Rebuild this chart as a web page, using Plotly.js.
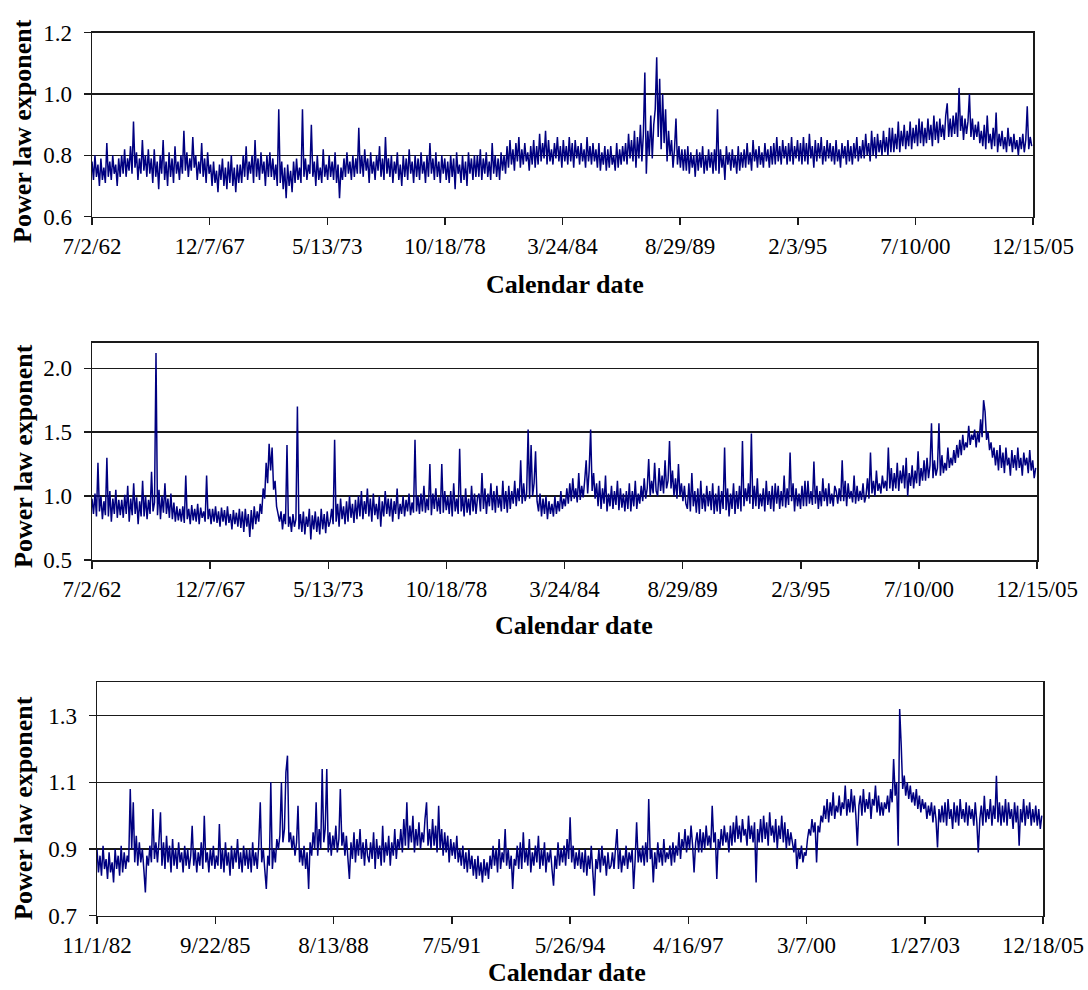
<!DOCTYPE html>
<html>
<head>
<meta charset="utf-8">
<script src="https://cdn.plot.ly/plotly-3.0.1.min.js"></script>
<style>html,body{margin:0;padding:0;background:#fff;}#chart{width:1088px;height:990px;}</style>
</head>
<body>
<div id="chart"></div>
<script>
// ---- Data ----
// Panels 1 and 2: 7/2/62 .. 12/15/05, sampled every 25 days
const start12 = '1962-07-02';
const end12 = '2005-12-15';
const step12 = 25;
// Panel 3: 11/1/82 .. 12/18/05, sampled every 13.5 days
const start3 = '1982-11-01';
const end3 = '2005-12-18';
const step3 = 13.5;

const ticks12 = ['1962-07-02','1967-12-07','1973-05-13','1978-10-18','1984-03-24','1989-08-29','1995-02-03','2000-07-10','2005-12-15'];
const labels12 = ['7/2/62','12/7/67','5/13/73','10/18/78','3/24/84','8/29/89','2/3/95','7/10/00','12/15/05'];
const ticks3 = ['1982-11-01','1985-09-22','1988-08-13','1991-07-05','1994-05-26','1997-04-16','2000-03-07','2003-01-27','2005-12-18'];
const labels3 = ['11/1/82','9/22/85','8/13/88','7/5/91','5/26/94','4/16/97','3/7/00','1/27/03','12/18/05'];

const yTicks1 = [0.6, 0.8, 1.0, 1.2];
const yTicks2 = [0.5, 1.0, 1.5, 2.0];
const yTicks3 = [0.7, 0.9, 1.1, 1.3];

const exp1 = [
0.78,0.72,0.80,0.73,0.77,0.70,0.79,0.72,0.76,0.71,0.84,0.73,0.78,0.72,0.80,0.74,0.77,0.70,0.79,0.73,
0.80,0.74,0.82,0.73,0.79,0.75,0.83,0.74,0.91,0.76,0.81,0.72,0.79,0.74,0.85,0.75,0.80,0.73,0.82,0.74,
0.79,0.71,0.82,0.73,0.78,0.69,0.80,0.74,0.85,0.72,0.78,0.70,0.81,0.73,0.79,0.71,0.83,0.74,0.78,0.72,
0.80,0.74,0.88,0.75,0.81,0.73,0.79,0.75,0.86,0.76,0.80,0.72,0.78,0.74,0.84,0.73,0.79,0.71,0.81,0.74,
0.77,0.70,0.78,0.71,0.75,0.68,0.77,0.72,0.79,0.70,0.76,0.69,0.78,0.71,0.80,0.70,0.76,0.68,0.77,0.71,
0.77,0.71,0.80,0.73,0.83,0.72,0.78,0.74,0.80,0.71,0.85,0.73,0.79,0.72,0.81,0.74,0.78,0.70,0.80,0.73,
0.81,0.73,0.79,0.72,0.77,0.70,0.95,0.71,0.78,0.69,0.76,0.66,0.77,0.70,0.75,0.68,0.78,0.71,0.79,0.72,
0.76,0.71,0.95,0.73,0.79,0.72,0.77,0.74,0.90,0.73,0.78,0.70,0.80,0.72,0.76,0.71,0.82,0.73,0.77,0.72,
0.80,0.73,0.78,0.72,0.81,0.71,0.77,0.66,0.76,0.72,0.79,0.73,0.81,0.74,0.78,0.72,0.80,0.73,0.79,0.74,
0.89,0.74,0.80,0.73,0.82,0.75,0.79,0.71,0.81,0.74,0.78,0.72,0.80,0.75,0.83,0.73,0.79,0.72,0.86,0.74,
0.79,0.73,0.80,0.71,0.78,0.74,0.81,0.72,0.77,0.70,0.80,0.73,0.79,0.72,0.82,0.74,0.78,0.71,0.80,0.73,
0.79,0.72,0.81,0.74,0.78,0.71,0.80,0.73,0.84,0.74,0.79,0.72,0.81,0.73,0.78,0.71,0.80,0.74,0.79,0.72,
0.78,0.71,0.80,0.73,0.79,0.69,0.81,0.74,0.77,0.71,0.80,0.72,0.78,0.70,0.81,0.74,0.79,0.72,0.80,0.73,
0.80,0.73,0.82,0.72,0.79,0.74,0.81,0.73,0.78,0.72,0.84,0.74,0.80,0.73,0.79,0.72,0.81,0.75,0.80,0.74,
0.83,0.76,0.85,0.77,0.82,0.75,0.84,0.78,0.86,0.76,0.82,0.77,0.84,0.78,0.81,0.75,0.83,0.77,0.85,0.76,
0.83,0.77,0.87,0.78,0.84,0.79,0.88,0.77,0.85,0.78,0.82,0.77,0.84,0.79,0.86,0.78,0.83,0.76,0.85,0.78,
0.83,0.77,0.86,0.78,0.84,0.76,0.85,0.79,0.83,0.77,0.84,0.78,0.82,0.76,0.86,0.78,0.83,0.77,0.84,0.78,
0.82,0.76,0.84,0.75,0.81,0.77,0.83,0.75,0.82,0.76,0.83,0.77,0.80,0.75,0.84,0.76,0.82,0.77,0.83,0.78,
0.84,0.77,0.87,0.79,0.85,0.78,0.88,0.76,0.86,0.79,0.90,0.78,0.87,1.07,0.74,0.88,0.80,0.93,0.79,0.90,
0.95,1.12,0.86,1.05,0.82,1.00,0.84,0.95,0.78,0.88,0.80,0.85,0.76,0.82,0.92,0.77,0.83,0.76,0.82,0.75,
0.82,0.75,0.83,0.74,0.81,0.76,0.80,0.73,0.82,0.75,0.81,0.76,0.83,0.74,0.80,0.75,0.82,0.76,0.81,0.74,
0.82,0.75,0.95,0.74,0.82,0.76,0.80,0.72,0.83,0.77,0.81,0.75,0.82,0.76,0.80,0.74,0.83,0.75,0.81,0.76,
0.82,0.76,0.84,0.77,0.81,0.75,0.85,0.78,0.82,0.76,0.83,0.77,0.81,0.76,0.84,0.78,0.82,0.76,0.83,0.77,
0.84,0.77,0.86,0.78,0.83,0.77,0.85,0.79,0.83,0.77,0.84,0.78,0.86,0.77,0.83,0.79,0.85,0.78,0.84,0.77,
0.86,0.78,0.84,0.77,0.87,0.79,0.83,0.76,0.85,0.78,0.84,0.79,0.86,0.77,0.83,0.78,0.85,0.79,0.84,0.78,
0.83,0.77,0.85,0.78,0.82,0.76,0.84,0.79,0.83,0.77,0.85,0.78,0.83,0.77,0.84,0.79,0.86,0.78,0.83,0.79,
0.85,0.79,0.87,0.80,0.84,0.78,0.88,0.80,0.86,0.79,0.87,0.81,0.85,0.80,0.88,0.81,0.86,0.80,0.89,0.81,
0.89,0.81,0.87,0.82,0.91,0.81,0.88,0.83,0.90,0.82,0.88,0.83,0.91,0.82,0.89,0.84,0.90,0.83,0.92,0.84,
0.91,0.83,0.89,0.84,0.92,0.85,0.90,0.83,0.93,0.85,0.91,0.84,0.92,0.86,0.90,0.85,0.93,0.97,0.86,0.92,
0.86,0.93,0.87,0.94,0.86,1.02,0.88,0.93,0.85,0.92,0.87,0.91,1.00,0.86,0.92,0.85,0.90,0.86,0.91,0.84,
0.88,0.83,0.90,0.82,0.93,0.84,0.87,0.82,0.89,0.83,0.94,0.81,0.87,0.83,0.88,0.82,0.86,0.81,0.89,0.83,
0.86,0.81,0.87,0.82,0.85,0.80,0.86,0.82,0.87,0.81,0.85,0.96,0.82,0.86,0.83
];

const exp2 = [
0.98,0.86,1.02,0.84,1.26,0.88,1.00,0.82,0.96,0.85,1.30,0.84,1.04,0.80,0.98,0.86,1.05,0.83,0.97,0.85,
0.97,0.83,1.01,0.86,1.08,0.80,0.98,0.85,1.10,0.86,0.99,0.78,0.96,0.84,1.12,0.84,1.00,0.82,0.97,0.86,
1.19,0.88,0.95,2.12,0.85,1.05,0.82,1.00,0.87,1.10,0.86,0.98,0.83,1.02,0.82,0.95,0.80,0.92,0.81,0.90,
0.80,0.92,0.79,1.16,0.82,0.90,0.78,0.93,0.81,0.90,0.80,0.94,0.78,0.91,0.83,0.88,0.80,1.16,0.82,0.90,
0.78,0.90,0.80,0.92,0.79,0.88,0.76,0.91,0.80,0.89,0.77,0.92,0.79,0.86,0.74,0.89,0.78,0.87,0.76,0.90,
0.75,0.88,0.72,0.90,0.76,0.86,0.68,0.89,0.74,0.92,0.78,0.88,0.80,0.94,0.86,1.06,0.98,1.26,1.10,1.41,
1.20,1.38,1.05,1.12,0.92,0.86,0.80,0.88,0.74,0.86,0.78,1.40,0.76,0.84,0.72,0.86,0.76,0.82,1.70,0.74,
0.86,0.72,0.88,0.70,0.84,0.76,0.90,0.66,0.85,0.74,0.88,0.72,0.84,0.70,0.90,0.74,0.86,0.71,0.88,0.76,
0.80,0.90,0.78,1.44,0.80,0.94,0.76,0.98,0.82,0.92,0.78,0.96,0.80,1.00,0.83,0.94,0.79,0.97,0.82,1.00,
0.84,1.04,0.82,0.96,0.86,1.06,0.84,0.98,0.80,1.02,0.85,0.94,0.82,1.00,0.76,0.96,0.84,1.04,0.86,0.98,
0.84,0.98,0.80,0.96,0.86,1.06,0.82,0.94,0.86,1.00,0.84,0.97,0.88,1.02,0.85,0.95,0.87,1.44,0.88,1.00,
0.86,1.02,0.88,1.08,0.87,0.98,0.89,1.25,0.85,1.02,0.90,1.06,0.88,0.99,0.86,1.25,0.87,1.04,0.89,1.00,
0.86,1.04,0.84,1.10,0.88,0.98,0.86,1.37,0.88,1.00,0.84,1.06,0.87,0.98,0.85,1.08,0.88,1.02,0.86,0.99,
1.02,0.88,1.18,0.90,1.06,0.86,1.02,0.92,1.10,0.89,1.04,0.87,1.08,0.91,1.00,0.88,1.12,0.90,1.04,0.87,
1.08,0.90,1.04,0.94,1.12,0.92,1.06,0.96,1.28,0.94,1.10,0.96,1.02,1.52,0.98,1.40,1.00,1.10,1.35,0.96,
0.88,1.02,0.84,0.98,0.86,1.00,0.82,0.96,0.86,0.94,0.84,1.00,0.86,0.96,0.88,1.04,0.90,0.98,0.92,1.06,
0.94,1.10,0.96,1.14,0.98,1.06,0.95,1.18,0.97,1.08,0.99,1.12,1.28,1.02,1.20,1.52,1.04,1.18,0.98,1.10,
0.92,1.12,0.90,1.06,0.94,1.16,0.88,1.02,0.92,1.08,0.90,1.04,0.93,1.12,0.89,1.06,0.91,1.02,0.88,1.04,
0.90,1.10,0.88,1.04,0.92,1.12,0.90,1.02,0.94,1.08,0.96,1.14,0.98,1.06,1.29,1.00,1.12,1.02,1.26,1.04,
1.00,1.22,1.04,1.16,1.02,1.28,1.06,1.12,1.43,1.06,1.20,1.00,1.14,0.98,1.25,1.00,1.10,0.96,1.08,0.94,
0.90,1.10,0.88,1.18,0.92,1.04,0.87,1.06,0.86,1.12,0.90,1.02,0.88,1.08,0.92,1.04,0.89,1.10,0.86,1.02,
0.88,1.08,0.86,1.04,0.90,1.38,0.89,1.06,0.84,1.02,0.90,1.10,0.86,1.04,0.90,1.08,0.88,1.43,0.92,1.06,
0.96,1.10,0.94,1.49,0.90,1.08,0.92,1.14,0.90,1.02,0.92,1.06,0.88,1.12,0.93,1.04,0.90,1.08,0.88,1.10,
0.94,1.08,0.90,1.04,0.92,1.16,0.91,1.06,0.93,1.34,0.96,1.10,0.88,1.06,0.92,1.02,0.90,1.08,0.92,1.12,
0.92,1.12,0.94,1.04,0.93,1.27,0.94,1.08,0.90,1.04,0.92,1.14,0.96,1.06,0.92,1.10,0.94,1.02,0.92,1.08,
1.04,0.94,1.06,0.96,1.28,0.96,1.12,0.92,1.10,0.98,1.04,0.95,1.16,0.94,1.08,0.96,1.04,0.97,1.10,0.95,
1.00,1.14,0.98,1.34,1.02,1.12,1.00,1.20,1.04,1.10,1.02,1.16,1.06,1.12,1.04,1.38,1.06,1.22,1.04,1.18,
1.06,1.26,1.04,1.20,1.10,1.24,1.06,1.30,1.00,1.18,1.08,1.24,1.06,1.20,1.10,1.35,1.08,1.22,1.12,1.28,
1.12,1.30,1.14,1.24,1.57,1.14,1.28,1.16,1.22,1.57,1.16,1.32,1.18,1.26,1.20,1.38,1.22,1.30,1.24,1.36,
1.26,1.40,1.30,1.44,1.32,1.48,1.36,1.42,1.38,1.55,1.40,1.48,1.44,1.52,1.38,1.50,1.42,1.60,1.46,1.75,
1.66,1.44,1.50,1.36,1.42,1.30,1.38,1.24,1.36,1.20,1.40,1.22,1.34,1.18,1.38,1.24,1.30,1.16,1.36,1.22,
1.32,1.20,1.38,1.22,1.30,1.16,1.34,1.24,1.30,1.18,1.36,1.20,1.28,1.14,1.22
];

const exp3 = [
0.90,0.83,0.88,0.82,0.91,0.84,0.87,0.81,0.89,0.83,0.86,0.80,0.90,0.84,0.88,0.82,0.91,0.83,0.89,0.84,
0.88,0.86,1.08,0.90,1.04,0.86,0.94,0.85,0.92,0.86,0.90,0.84,0.77,0.88,0.85,0.91,0.86,1.02,0.87,0.92,
0.86,0.92,1.01,0.85,0.92,0.84,0.94,0.86,0.91,0.83,0.93,0.85,0.90,0.84,0.92,0.86,0.89,0.83,0.91,0.85,
0.90,0.84,0.88,0.97,0.85,0.90,0.83,0.89,0.85,0.92,0.84,1.00,0.86,0.89,0.83,0.90,0.85,0.91,0.84,0.88,
0.85,0.975,0.84,0.90,0.83,0.92,0.85,0.89,0.82,0.91,0.84,0.90,0.86,0.93,0.84,0.89,0.83,0.91,0.85,0.90,
0.84,0.90,0.83,0.92,0.85,0.89,0.84,0.91,1.04,0.86,0.90,0.84,0.78,0.88,0.85,1.10,0.84,0.90,0.86,0.93,
0.90,0.94,1.10,0.92,0.96,1.13,1.18,0.92,0.95,0.90,0.94,0.88,0.92,1.03,0.86,0.90,0.85,0.91,0.84,0.89,
0.78,0.92,0.88,0.95,0.90,1.04,0.88,0.96,0.90,1.14,0.92,0.96,1.14,0.89,0.95,0.88,0.94,0.90,0.97,0.89,
0.93,1.08,0.91,0.95,0.88,0.94,0.87,0.81,0.92,0.87,0.95,0.86,0.93,0.88,0.96,0.87,0.92,0.85,0.93,0.88,
0.86,0.92,0.87,0.95,0.84,0.93,0.87,0.91,0.85,0.97,0.86,0.92,0.88,0.94,0.85,0.92,0.88,0.96,0.87,0.93,
0.90,0.96,0.89,0.99,0.91,1.04,0.90,0.97,0.92,1.00,0.89,0.96,0.91,0.98,0.90,0.95,0.92,0.99,1.04,0.91,
0.96,0.90,0.99,0.91,0.97,0.89,1.03,0.90,0.96,0.88,0.95,0.89,0.94,0.86,0.93,0.88,0.92,0.87,0.94,0.86,
0.90,0.85,0.91,0.84,0.89,0.83,0.90,0.84,0.88,0.82,0.87,0.81,0.88,0.82,0.86,0.80,0.87,0.82,0.86,0.81,
0.88,0.84,0.91,0.85,0.90,0.83,0.93,0.84,0.89,0.86,0.96,0.85,0.90,0.84,0.88,0.78,0.87,0.85,0.91,0.84,
0.92,0.84,0.95,0.86,0.90,0.85,0.93,0.83,0.89,0.85,0.91,0.86,0.94,0.84,0.90,0.85,0.92,0.83,0.89,0.86,
0.90,0.84,0.79,0.88,0.84,0.92,0.85,0.90,0.86,0.91,0.85,0.93,0.87,0.995,0.86,0.91,0.84,0.89,0.85,0.90,
0.84,0.89,0.83,0.90,0.82,0.88,0.84,0.91,0.83,0.76,0.87,0.84,0.90,0.83,0.91,0.85,0.88,0.82,0.89,0.84,
0.85,0.89,0.84,0.90,0.96,0.84,0.90,0.83,0.88,0.85,0.91,0.84,0.89,0.86,0.90,0.78,0.87,0.98,0.86,0.90,
0.86,0.91,0.85,0.92,0.86,1.05,0.87,0.90,0.80,0.89,0.84,0.92,0.86,0.90,0.85,0.93,0.86,0.89,0.87,0.91,
0.85,0.92,0.86,0.91,0.88,0.95,0.87,0.93,0.90,0.96,0.89,0.94,0.90,0.97,0.91,0.83,0.92,0.95,0.89,0.96,
0.89,0.95,0.90,0.97,0.91,0.94,0.90,1.03,0.92,0.95,0.81,0.93,0.90,0.96,0.91,0.97,0.92,0.95,0.89,0.97,
0.91,0.98,0.92,1.00,0.93,0.97,0.92,0.99,0.94,0.96,0.91,1.00,0.93,0.97,0.92,0.98,0.80,0.96,0.92,0.99,
0.92,1.00,0.93,0.98,0.91,1.01,0.94,0.97,0.92,0.99,0.90,0.97,0.93,1.00,0.92,0.98,0.90,0.96,0.91,0.95,
0.92,0.89,0.93,0.84,0.90,0.87,0.91,0.86,0.89,0.88,0.93,0.96,0.94,0.99,0.95,0.98,0.86,0.97,0.95,1.00,
0.98,1.03,0.99,1.05,0.98,1.04,1.00,1.07,0.99,1.03,1.01,1.06,1.00,1.04,1.02,1.09,1.00,1.05,1.01,1.08,
1.01,1.06,1.00,0.91,1.03,1.06,1.00,1.08,1.01,1.05,1.02,1.07,0.99,1.05,1.03,1.09,1.01,1.06,1.00,1.04,
1.00,1.04,1.02,1.06,1.01,1.08,1.04,1.17,1.06,1.10,0.91,1.32,1.21,1.08,1.12,1.06,1.10,1.05,1.09,1.04,
1.07,1.03,1.08,1.02,1.06,1.01,1.05,1.02,1.04,0.99,1.03,1.00,1.04,0.98,1.03,0.99,0.905,1.02,0.98,1.03,
0.98,1.04,0.97,1.05,0.99,1.02,0.96,1.04,0.98,1.03,0.97,1.05,0.99,1.02,0.98,1.04,0.97,1.03,0.99,1.02,
0.97,1.04,0.98,0.89,0.99,1.03,0.97,1.06,0.98,1.02,0.99,1.05,0.97,1.03,0.99,1.12,0.98,1.04,0.97,1.03,
0.98,1.05,0.97,1.04,0.99,1.02,0.96,1.04,0.98,1.03,0.91,1.02,0.98,1.05,0.97,1.03,0.99,1.04,0.97,1.02,
0.98,1.03,0.97,1.02,0.96,1.00
];

// ---- Build sampling dates ----
function datesFrom(startIso, stepDays, n) {
  const t0 = Date.parse(startIso + 'T00:00:00Z');
  const out = [];
  for (let i = 0; i < n; i++) {
    out.push(new Date(t0 + i * stepDays * 86400000).toISOString().slice(0, 10));
  }
  return out;
}

// ---- Styling ----
const W = 1088, H = 990;
const serif = '"Liberation Serif", "Times New Roman", Times, serif';
const tickFont = {family: serif, size: 23, color: '#000'};
const titleFont = {family: serif, size: 26, color: '#000'};
const lineCol = '#000080';
const axCol = '#1a1a1a';

function xd(l, r) { return [l / W, r / W]; }
function yd(top, bottom) { return [1 - bottom / H, 1 - top / H]; }

function xAxis(dom, yref, range, vals, text) {
  return {
    domain: dom, anchor: yref, type: 'date', range: range,
    tickmode: 'array', tickvals: vals, ticktext: text,
    ticks: 'outside', ticklen: 7, tickwidth: 1.5, tickcolor: axCol,
    ticklabelstandoff: 1,
    showline: true, mirror: true, linecolor: axCol, linewidth: 1.5,
    showgrid: false, zeroline: false, tickfont: tickFont, fixedrange: true
  };
}
function yAxis(dom, xref, range, vals) {
  return {
    domain: dom, anchor: xref, range: range,
    tickmode: 'array', tickvals: vals, tickformat: '.1f',
    ticks: 'outside', ticklen: 7, tickwidth: 1.5, tickcolor: axCol,
    ticklabelstandoff: 7,
    showline: true, mirror: true, linecolor: axCol, linewidth: 1.5,
    showgrid: true, gridcolor: axCol, gridwidth: 1.5,
    zeroline: false, tickfont: tickFont, fixedrange: true
  };
}

function series(xs, ys, xa, ya) {
  return {
    type: 'scatter', mode: 'lines', x: xs, y: ys, xaxis: xa, yaxis: ya,
    line: {color: lineCol, width: 1.5, simplify: false},
    hoverinfo: 'skip', showlegend: false
  };
}

const data = [
  series(datesFrom(start12, step12, exp1.length), exp1, 'x', 'y'),
  series(datesFrom(start12, step12, exp2.length), exp2, 'x2', 'y2'),
  series(datesFrom(start3, step3, exp3.length), exp3, 'x3', 'y3')
];

function xTitle(cx, cy) {
  return {text: '<b>Calendar date</b>', xref: 'paper', yref: 'paper',
    x: cx / W, y: 1 - cy / H, xanchor: 'center', yanchor: 'middle',
    showarrow: false, font: titleFont};
}
function yTitle(cx, cy) {
  return {text: '<b>Power law exponent</b>', xref: 'paper', yref: 'paper',
    x: cx / W, y: 1 - cy / H, xanchor: 'center', yanchor: 'middle', textangle: -90,
    showarrow: false, font: titleFont};
}

const layout = {
  width: W, height: H,
  margin: {l: 0, r: 0, t: 0, b: 0},
  paper_bgcolor: '#fff', plot_bgcolor: '#fff',
  showlegend: false, hovermode: false,
  xaxis: xAxis(xd(92, 1033), 'y', [start12, end12], ticks12, labels12),
  yaxis: yAxis(yd(32.7, 216.7), 'x', [0.6, 1.2], yTicks1),
  xaxis2: xAxis(xd(92, 1037), 'y2', [start12, end12], ticks12, labels12),
  yaxis2: yAxis(yd(342.7, 560), 'x2', [0.5, 2.2], yTicks2),
  xaxis3: xAxis(xd(97, 1043), 'y3', [start3, end3], ticks3, labels3),
  yaxis3: yAxis(yd(682.3, 915.7), 'x3', [0.7, 1.4], yTicks3),
  annotations: [
    xTitle(565, 285), xTitle(574, 625), xTitle(567, 972),
    yTitle(23, 131), yTitle(23, 456), yTitle(23, 808)
  ]
};

Plotly.newPlot('chart', data, layout, {displayModeBar: false, staticPlot: true});
</script>
</body>
</html>
